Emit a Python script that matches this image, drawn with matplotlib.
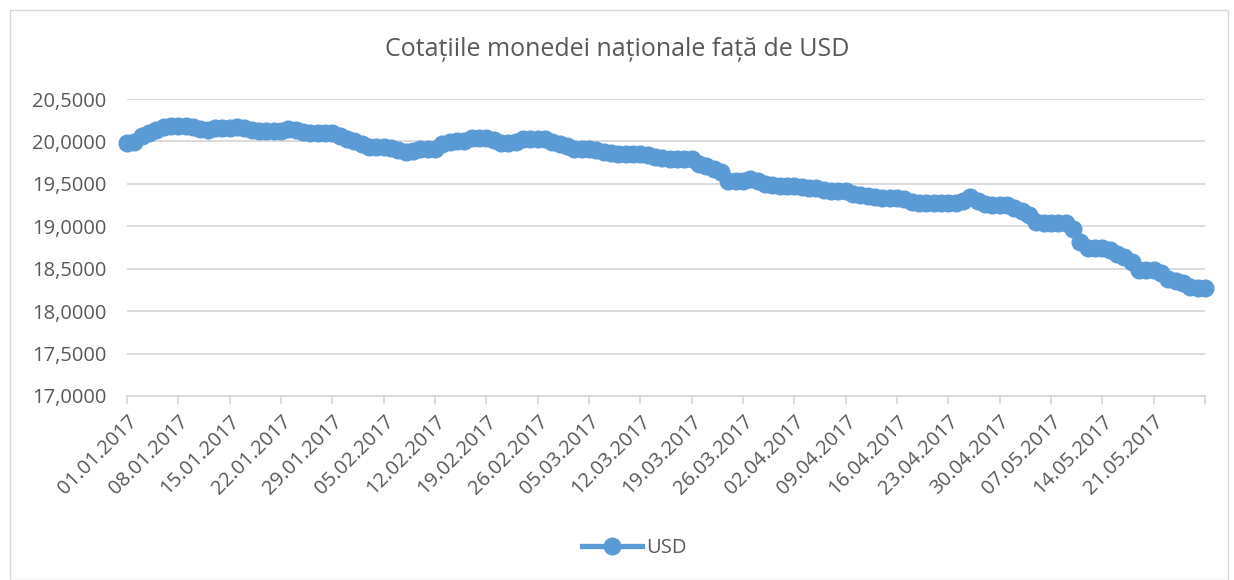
import pandas as pd
import matplotlib
matplotlib.use("Agg")
import matplotlib.pyplot as plt
from matplotlib.ticker import FuncFormatter
from matplotlib.patches import Rectangle

# Cursul zilnic MDL/USD, 01.01.2017 - 28.05.2017
start_date = "2017-01-01"
usd = [
    19.98, 19.99, 20.06, 20.10, 20.13, 20.17, 20.18, 20.18, 20.18, 20.17,
    20.15, 20.14, 20.16, 20.16, 20.16, 20.17, 20.16, 20.13, 20.12, 20.12,
    20.12, 20.12, 20.15, 20.14, 20.11, 20.10, 20.10, 20.10, 20.10, 20.06,
    20.03, 20.01, 19.97, 19.93, 19.93, 19.93, 19.92, 19.90, 19.88, 19.89,
    19.91, 19.91, 19.91, 19.97, 19.99, 20.00, 20.01, 20.04, 20.04, 20.04,
    20.02, 19.98, 19.98, 19.99, 20.03, 20.03, 20.03, 20.03, 19.99, 19.97,
    19.95, 19.91, 19.91, 19.91, 19.90, 19.88, 19.86, 19.85, 19.85, 19.85,
    19.85, 19.84, 19.82, 19.80, 19.79, 19.79, 19.79, 19.79, 19.73, 19.71,
    19.68, 19.64, 19.53, 19.53, 19.53, 19.56, 19.53, 19.50, 19.49, 19.48,
    19.48, 19.48, 19.46, 19.45, 19.45, 19.43, 19.41, 19.41, 19.41, 19.38,
    19.37, 19.36, 19.35, 19.33, 19.33, 19.33, 19.32, 19.29, 19.28, 19.27,
    19.27, 19.27, 19.27, 19.28, 19.30, 19.34, 19.30, 19.26, 19.25, 19.25,
    19.25, 19.22, 19.18, 19.13, 19.05, 19.04, 19.04, 19.04, 19.04, 18.97,
    18.82, 18.75, 18.75, 18.75, 18.72, 18.67, 18.64, 18.58, 18.49, 18.48,
    18.48, 18.45, 18.38, 18.35, 18.33, 18.28, 18.27, 18.27,
]
dates = pd.date_range(start_date, periods=len(usd), freq="D")
labels = [d.strftime("%d.%m.%Y") for d in dates]

title = "Cotațiile monedei naționale față de USD"
series_name = "USD"

blue = "#5b9bd5"
gray_txt = "#595959"
grid_col = "#d9d9d9"

plt.rcParams["font.family"] = ["Open Sans", "DejaVu Sans"]

fig = plt.figure(figsize=(12.34, 5.8), dpi=100)
ax = fig.add_axes([127 / 1234, 1 - 396 / 580, (1205 - 127) / 1234, (396 - 99) / 580])

# chenarul exterior al graficului
fig.patches.append(Rectangle((10 / 1234, 0.0), 1218 / 1234, 570 / 580,
                             transform=fig.transFigure, fill=False,
                             edgecolor="#d9d9d9", lw=1.0))

x = list(range(len(usd)))
ax.plot(x, usd, color=blue, lw=3.8, marker="o", markersize=12,
        markerfacecolor=blue, markeredgecolor=blue, label=series_name,
        clip_on=False, zorder=3)

ax.set_xlim(0, len(usd) - 1)
ax.set_ylim(17.0, 20.5)
ax.set_yticks([17.0 + 0.5 * i for i in range(8)])
ax.yaxis.set_major_formatter(FuncFormatter(lambda v, p: f"{v:.4f}".replace(".", ",")))

tick_pos = list(range(0, len(usd), 7))
ax.set_xticks(tick_pos)
ax.set_xticklabels([labels[i] if i <= 140 else "" for i in tick_pos],
                   rotation=45, ha="right", rotation_mode="anchor")

ax.grid(axis="y", color=grid_col, lw=1.3)
ax.set_axisbelow(True)
for s in ["top", "right", "left"]:
    ax.spines[s].set_visible(False)
ax.spines["bottom"].set_color(grid_col)
ax.spines["bottom"].set_linewidth(1.3)

ax.tick_params(axis="y", length=0, pad=15, labelsize=14.5, labelcolor=gray_txt)
ax.tick_params(axis="x", length=6, width=1.3, color=grid_col, direction="out",
               pad=5, labelsize=14.5, labelcolor=gray_txt)

fig.text(0.5, 1 - 50 / 580, title, ha="center", va="center",
         fontsize=18, color=gray_txt)

leg = fig.legend(loc="center", bbox_to_anchor=(634 / 1234, 1 - 548 / 580), frameon=False,
                 fontsize=14.5, handlelength=3.0, handletextpad=0.2)
for t in leg.get_texts():
    t.set_color(gray_txt)

fig.savefig("out.png", dpi=100)
